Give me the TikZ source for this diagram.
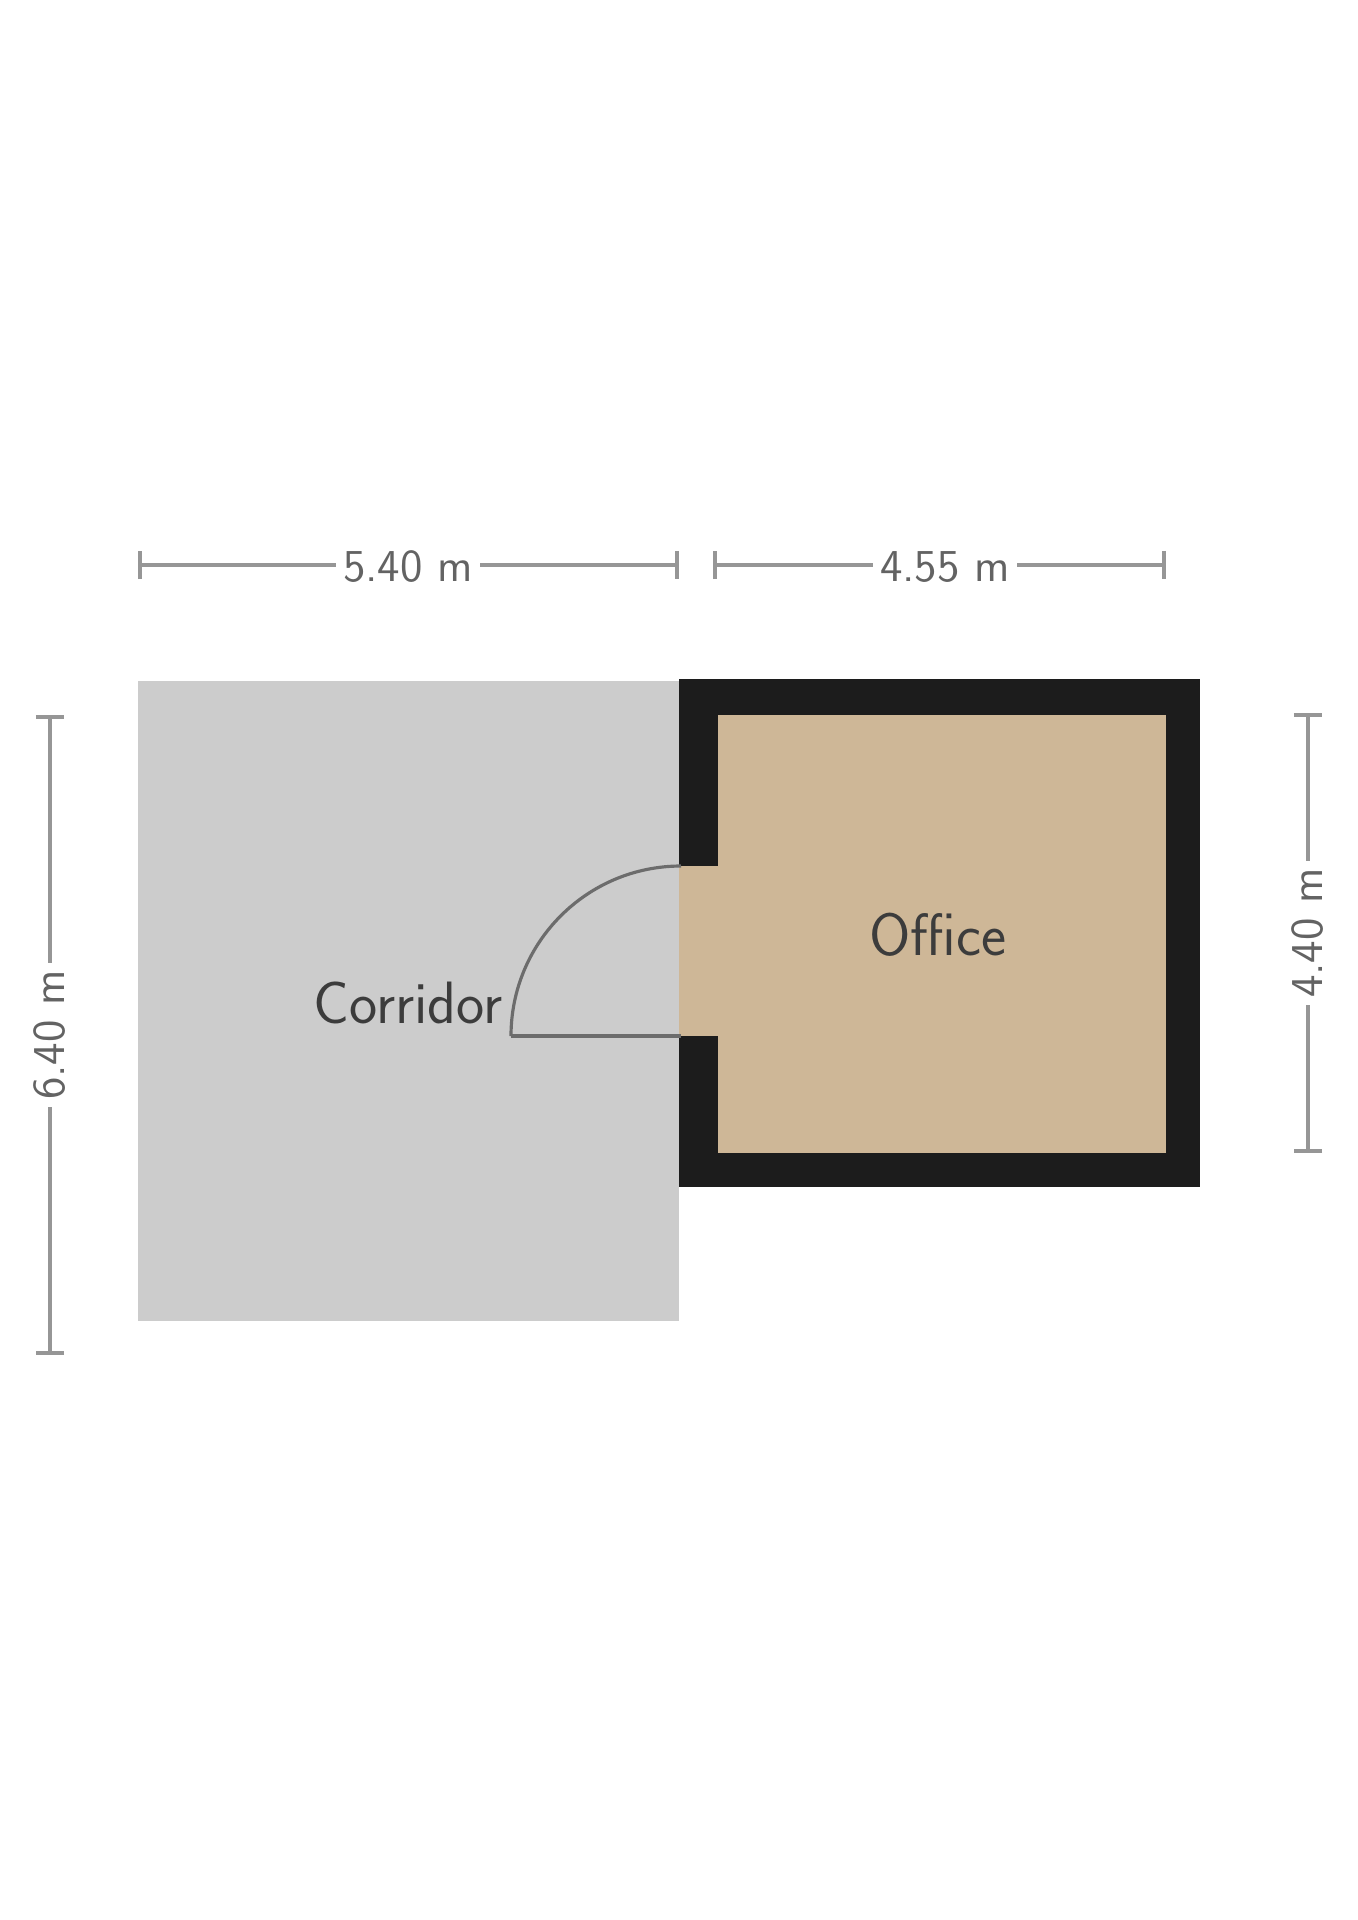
\documentclass[tikz,border=0pt]{standalone}
\usepackage{tikz}
\usetikzlibrary{arrows.meta}
\definecolor{floortan}{RGB}{206,183,151}
\definecolor{hallgrey}{RGB}{204,204,204}
\definecolor{wallblack}{RGB}{28,28,28}
\definecolor{dimgrey}{RGB}{150,150,150}
\definecolor{labelgrey}{RGB}{60,60,60}

\begin{document}
\begin{tikzpicture}[x=0.01cm,y=-0.01cm,
    dimline/.style={dimgrey,line width=1.2pt,{Bar[width=8pt]}-{Bar[width=8pt]}},
    dimlabel/.style={fill=white,text=labelgrey!80,font=\sffamily\fontsize{13}{15}\selectfont,inner sep=2pt},
    roomlabel/.style={text=labelgrey,font=\sffamily\fontsize{17}{20}\selectfont},
    doorline/.style={gray!85!black,line width=0.9pt}]
        \useasboundingbox (0,0) rectangle (1358,1920);

        % hallway and room floor
        \fill[hallgrey] (138,681) rectangle (679,1321);
        \fill[floortan] (679,679) rectangle (1180,1187);

        % walls, door gap on the left
        \fill[wallblack] (679,679) rectangle (1200,715);
        \fill[wallblack] (679,1153) rectangle (1200,1187);
        \fill[wallblack] (1166,679) rectangle (1200,1187);
        \fill[wallblack] (679,679) rectangle (718,866);
        \fill[wallblack] (679,1036) rectangle (718,1187);

        % door
        \coordinate (hinge) at (681,1036);
        \coordinate (leafend) at (511,1036);
        \draw[doorline] (hinge) -- (leafend);
        \draw[doorline] (leafend) arc[start angle=180,end angle=270,radius=170];

        \node[roomlabel] (hallname) at (408,1003) {Corridor};
        \node[roomlabel] (roomname) at (938,935) {Office};

        % dimensions
        \coordinate (topA) at (138,565);
        \coordinate (topB) at (679,565);
        \coordinate (topC) at (713,565);
        \coordinate (topD) at (1166,565);
        \coordinate (leftA) at (50,715);
        \coordinate (leftB) at (50,1355);
        \coordinate (rightA) at (1308,713);
        \coordinate (rightB) at (1308,1153);

        \draw[dimline] (topA) -- (topB);
        \draw[dimline] (topC) -- (topD);
        \draw[dimline] (leftA) -- (leftB);
        \draw[dimline] (rightA) -- (rightB);

        \node[dimlabel] (hallwidth) at (408,567) {5.40 m};
        \node[dimlabel] (roomwidth) at (945,567) {4.55 m};
        \node[dimlabel,rotate=90] (hallheight) at (50,1035) {6.40 m};
        \node[dimlabel,rotate=90] (roomheight) at (1308,933) {4.40 m};
    \end{tikzpicture}
\end{document}
